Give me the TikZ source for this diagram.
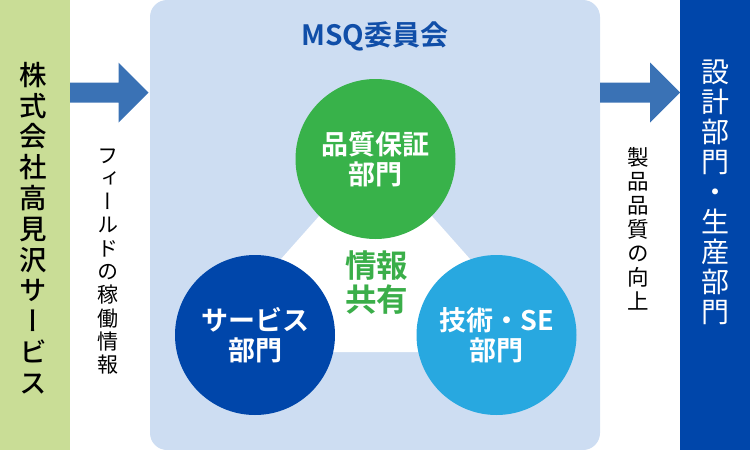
\documentclass[tikz,border=0pt]{standalone}
\usepackage{fontspec}
\newfontfamily\cjk{Noto Sans CJK JP}
\newfontfamily\cjkv[RawFeature=+vert]{Noto Sans CJK JP}
\newfontfamily\cjkvm[RawFeature=+vert]{Noto Sans CJK JP Medium}
\newfontfamily\cjkb{Noto Sans CJK JP Bold}
\definecolor{leftbar}{RGB}{201,221,150}
\definecolor{arrowblue}{RGB}{58,114,181}
\definecolor{panel}{RGB}{205,221,242}
\definecolor{navy}{RGB}{0,70,170}
\definecolor{qgreen}{RGB}{56,178,74}
\definecolor{skyblue}{RGB}{40,168,224}
\definecolor{titleblue}{RGB}{16,78,168}
\definecolor{sharegreen}{RGB}{58,174,73}
\tikzset{
  bigarrow/.style={fill=arrowblue,draw=none},
  dept/.style={circle,minimum size=160pt,inner sep=0pt,draw=none,text=white,align=center,
    font=\cjkb\fontsize{27}{30}\selectfont},
  vlabel/.style={align=center,inner sep=0pt,font=\cjkv\fontsize{21}{23.3}\selectfont,text=black},
}
\begin{document}
\begin{tikzpicture}[x=1pt,y=-1pt]
\useasboundingbox (0,0) rectangle (750,450);
% side bars
\fill[leftbar] (0,0) rectangle (70,450);
\fill[navy] (680,0) rectangle (750,450);
% panel
\fill[panel,rounded corners=17pt] (150,0) rectangle (600,450);
% arrows
\fill[bigarrow] (70,82.5) -- (118.5,82.5) -- (118.5,62.5) -- (148.5,92.5) -- (118.5,122.5) -- (118.5,102.5) -- (70,102.5) -- cycle;
\fill[bigarrow] (600,82.5) -- (650,82.5) -- (650,62.5) -- (680,92.5) -- (650,122.5) -- (650,102.5) -- (600,102.5) -- cycle;
% white triangle
\fill[white] (375.5,152.5) -- (198.5,352) -- (552.5,352) -- cycle;
% circles
\node[dept,fill=qgreen] (qa) at (375.5,159) {品質保証\\部門};
\node[dept,fill=navy] (svc) at (255,335) {サービス\\部門};
\node[dept,fill=skyblue] (tech) at (496.5,335) {技術・SE\\部門};
% texts
\node[font=\cjkb\fontsize{28}{28}\selectfont,text=titleblue] (title) at (375,36) {MSQ委員会};
\node[align=center,font=\cjkb\fontsize{31.5}{34}\selectfont,text=sharegreen] (share) at (376.5,283) {情報\\共有};
\node[align=center,inner sep=0pt,font=\cjkvm\fontsize{27.5}{30.8}\selectfont,text=black] (company) at (33,228) {株\\式\\会\\社\\高\\見\\沢\\サ\\ー\\ビ\\ス};
\node[align=center,inner sep=0pt,font=\cjkv\fontsize{28}{30}\selectfont,text=white] (design) at (715.5,192) {設\\計\\部\\門\\・\\生\\産\\部\\門};
\node[vlabel] (field) at (108,261.5) {フ\\ィ\\ー\\ル\\ド\\の\\稼\\働\\情\\報};
\node[vlabel,font=\cjkv\fontsize{21.5}{24}\selectfont] (quality) at (638,228.5) {製\\品\\品\\質\\の\\向\\上};
\end{tikzpicture}
\end{document}
